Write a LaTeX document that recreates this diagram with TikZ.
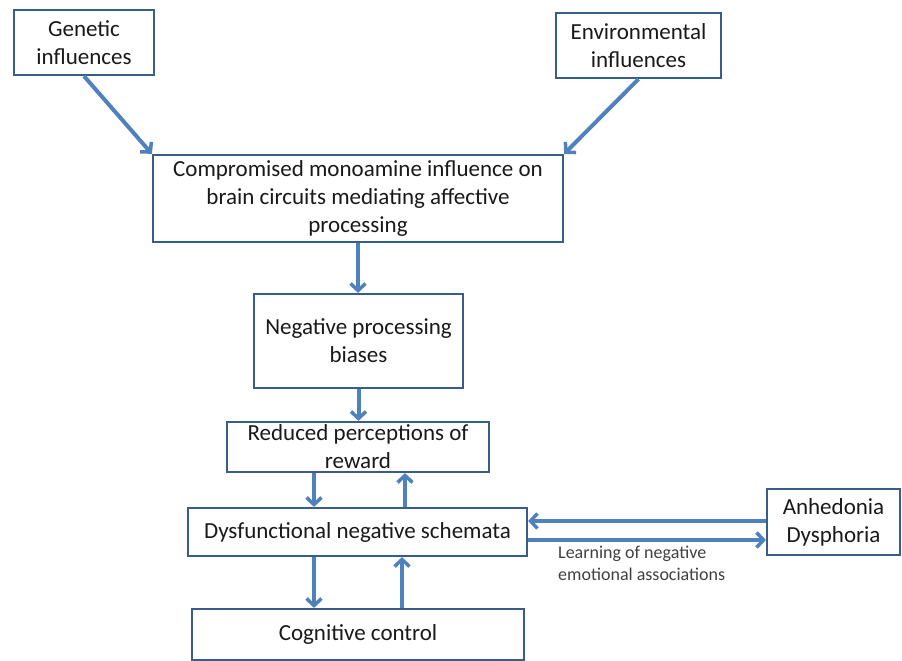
\documentclass[tikz,border=0pt]{standalone}
\usepackage{fontspec}
\setmainfont{Carlito}
\usetikzlibrary{arrows.meta}
\definecolor{boxline}{HTML}{385D8A}
\definecolor{arrowblue}{HTML}{4F81BD}
\tikzset{
  box/.style={draw=boxline,line width=2.2pt,inner sep=0pt,align=center,text=black!90,font=\fontsize{23}{28}\selectfont},
  arr/.style={draw=arrowblue,line width=4pt,-{Straight Barb[length=7pt,width=15pt,line width=3.5pt]}}
}
\begin{document}
\begin{tikzpicture}[x=1pt,y=-1pt]
\path[use as bounding box] (0,0) rectangle (902,661);
\node[box,minimum width=140pt,minimum height=65pt] (gen) at (84,42.5) {Genetic\\influences};
\node[box,minimum width=165pt,minimum height=65pt] (env) at (638.5,45.5) {Environmental\\influences};
\node[box,minimum width=410pt,minimum height=87pt] (comp) at (358,198.5) {Compromised monoamine influence on\\brain circuits mediating affective\\processing};
\node[box,minimum width=209pt,minimum height=94pt] (neg) at (358.5,341) {Negative processing\\biases};
\node[box,minimum width=262pt,minimum height=50pt] (red) at (358,447) {Reduced perceptions of\\reward};
\node[box,minimum width=339pt,minimum height=48pt] (dys) at (357.5,532) {Dysfunctional negative schemata};
\node[box,minimum width=332pt,minimum height=51pt] (cog) at (358,634.5) {Cognitive control};
\node[box,minimum width=133pt,minimum height=66pt] (anh) at (833.5,522) {Anhedonia\\Dysphoria};
\node[anchor=north west,inner sep=0pt,align=left,text=black!75,font=\fontsize{18}{22}\selectfont] (lbl) at (558,546) {Learning of negative\\emotional associations};
% arrows
\draw[arr] (gen.south) -- (comp.north west);
\draw[arr] (env.south) -- (comp.north east);
\draw[arr] (comp.south) -- (comp.south |- neg.north);
\draw[arr] (neg.south) -- (neg.south |- red.north);
\coordinate (rdL) at ([xshift=-44pt]red.south);
\coordinate (rdR) at ([xshift=47pt]red.south);
\draw[arr] (rdL) -- (rdL |- dys.north);
\draw[arr] (rdR |- dys.north) -- (rdR);
\coordinate (dcL) at ([xshift=-43.5pt]dys.south);
\coordinate (dcR) at ([xshift=44.5pt]dys.south);
\draw[arr] (dcL) -- (dcL |- cog.north);
\draw[arr] (dcR |- cog.north) -- (dcR);
\coordinate (daT) at ([yshift=11pt]dys.east);
\coordinate (daB) at ([yshift=-8pt]dys.east);
\draw[arr] (anh.west |- daT) -- (daT);
\draw[arr] (daB) -- (anh.west |- daB);
\end{tikzpicture}
\end{document}
